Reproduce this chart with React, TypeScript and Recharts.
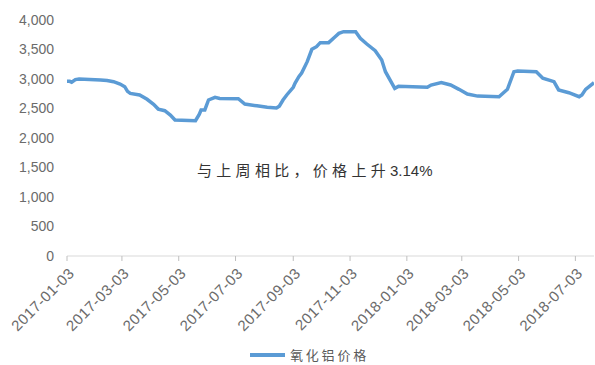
import React from "react";
import { LineChart, Line, XAxis, YAxis, Legend } from "recharts";

const dates = [
  "2017-01-03", "2017-01-06", "2017-01-08", "2017-01-12", "2017-01-16", "2017-02-08", "2017-02-15",
  "2017-02-22", "2017-03-01", "2017-03-06", "2017-03-09", "2017-03-12", "2017-03-22", "2017-03-30",
  "2017-04-06", "2017-04-11", "2017-04-18", "2017-04-24", "2017-04-29", "2017-05-21", "2017-05-25",
  "2017-05-27", "2017-05-31", "2017-06-04", "2017-06-11", "2017-06-16", "2017-07-06", "2017-07-13",
  "2017-07-26", "2017-08-06", "2017-08-16", "2017-08-19", "2017-08-23", "2017-08-27", "2017-09-03",
  "2017-09-05", "2017-09-09", "2017-09-12", "2017-09-18", "2017-09-23", "2017-09-28", "2017-10-02",
  "2017-10-11", "2017-10-18", "2017-10-22", "2017-10-27", "2017-11-09", "2017-11-14", "2017-11-21",
  "2017-11-30", "2017-12-07", "2017-12-11", "2017-12-18", "2017-12-21", "2017-12-25", "2018-01-25",
  "2018-01-29", "2018-02-09", "2018-02-19", "2018-02-28", "2018-03-09", "2018-03-20", "2018-04-12",
  "2018-04-21", "2018-04-28", "2018-05-02", "2018-05-22", "2018-05-29", "2018-06-10", "2018-06-15",
  "2018-06-26", "2018-07-07", "2018-07-10", "2018-07-14", "2018-07-23",
];

const prices = [
  2960, 2960, 2945, 2990, 3000, 2985, 2975,
  2955, 2915, 2870, 2790, 2755, 2730, 2656,
  2570, 2490, 2463, 2390, 2305, 2293, 2400,
  2475, 2475, 2644, 2690, 2670, 2666, 2575,
  2545, 2520, 2508, 2540, 2644, 2729, 2860,
  2930, 3039, 3100, 3294, 3503, 3548, 3616,
  3616, 3717, 3774, 3802, 3802, 3690, 3593,
  3480, 3322, 3124, 2927, 2842, 2875, 2860,
  2898, 2938, 2898, 2825, 2746, 2710, 2700,
  2825, 3124, 3136, 3124, 3012, 2955, 2814,
  2768, 2700, 2730, 2825, 2938,
];

const xTickLabels = [
  "2017-01-03", "2017-03-03", "2017-05-03", "2017-07-03", "2017-09-03",
  "2017-11-03", "2018-01-03", "2018-03-03", "2018-05-03", "2018-07-03",
];

const yTicks = [0, 500, 1000, 1500, 2000, 2500, 3000, 3500, 4000];

const seriesName = "氧化铝价格";
const annotation = "与上周相比，价格上升";
const annotationPct = "3.14%";

const toTs = (s: string) => Date.parse(s + "T00:00:00Z");
const fmtDate = (ts: number) => new Date(ts).toISOString().slice(0, 10);

const data = dates.map((d, i) => ({ t: toTs(d), v: prices[i] }));
const xTicks = xTickLabels.map(toTs);

const BLUE = "#5B9BD5";
const AXIS_TEXT = "#6b6b6b";

const XTick = (props: any) => {
  const { x, y, payload } = props;
  const px = x + 5;
  const py = y + 7;
  return (
    <text
      x={px}
      y={py}
      transform={`rotate(-45 ${px} ${py})`}
      textAnchor="end"
      dy="0.3em"
      fill={AXIS_TEXT}
      fontSize={15}
      letterSpacing={0.5}
      fontFamily="'Liberation Sans', Arial, sans-serif"
    >
      {fmtDate(payload.value)}
    </text>
  );
};

const LegendContent = () => (
  <div style={{ position: "relative", height: 20 }}>
    <div
      style={{
        position: "absolute",
        left: 250,
        top: 8,
        width: 35,
        height: 4,
        background: BLUE,
      }}
    />
    <div
      style={{
        position: "absolute",
        left: 290,
        top: 1,
        fontSize: 13,
        letterSpacing: 2.8,
        color: "#595959",
        fontFamily: "'Noto Sans CJK SC', sans-serif",
        lineHeight: "18px",
        whiteSpace: "nowrap",
      }}
    >
      {seriesName}
    </div>
  </div>
);

export default function App() {
  return (
    <div style={{ position: "absolute", left: 0, top: 0, width: 595, height: 365, background: "#fff" }}>
      <LineChart
        width={595}
        height={365}
        data={data}
        margin={{ top: 20, right: 1, left: 0, bottom: 0 }}
      >
        <XAxis
          dataKey="t"
          type="number"
          scale="time"
          domain={[data[0].t, data[data.length - 1].t]}
          ticks={xTicks}
          tick={<XTick />}
          height={89}
          tickSize={5}
          tickMargin={3}
          interval={0}
          axisLine={{ stroke: "#d9d9d9" }}
          tickLine={{ stroke: "#bfbfbf" }}
          allowDataOverflow
        />
        <YAxis
          domain={[0, 4000]}
          ticks={yTicks}
          width={67}
          axisLine={false}
          tickLine={false}
          tickSize={6}
          tickMargin={7}
          interval={0}
          tickFormatter={(v: number) => v.toLocaleString("en-US")}
          tick={{ fill: AXIS_TEXT, fontSize: 14, fontFamily: "'Liberation Sans', Arial, sans-serif" }}
        />
        <Legend verticalAlign="bottom" content={<LegendContent />} />
        <Line
          type="linear"
          dataKey="v"
          name={seriesName}
          stroke={BLUE}
          strokeWidth={3.5}
          dot={false}
          isAnimationActive={false}
        />
      </LineChart>
      <div
        style={{
          position: "absolute",
          left: 197,
          top: 159,
          fontSize: 15,
          color: "#333",
          whiteSpace: "nowrap",
          lineHeight: "22px",
        }}
      >
        <span style={{ fontFamily: "'Noto Sans CJK SC', sans-serif", letterSpacing: 4.3 }}>{annotation}</span>
        <span style={{ fontFamily: "'Liberation Sans', Arial, sans-serif", fontSize: 15 }}>{annotationPct}</span>
      </div>
    </div>
  );
}
